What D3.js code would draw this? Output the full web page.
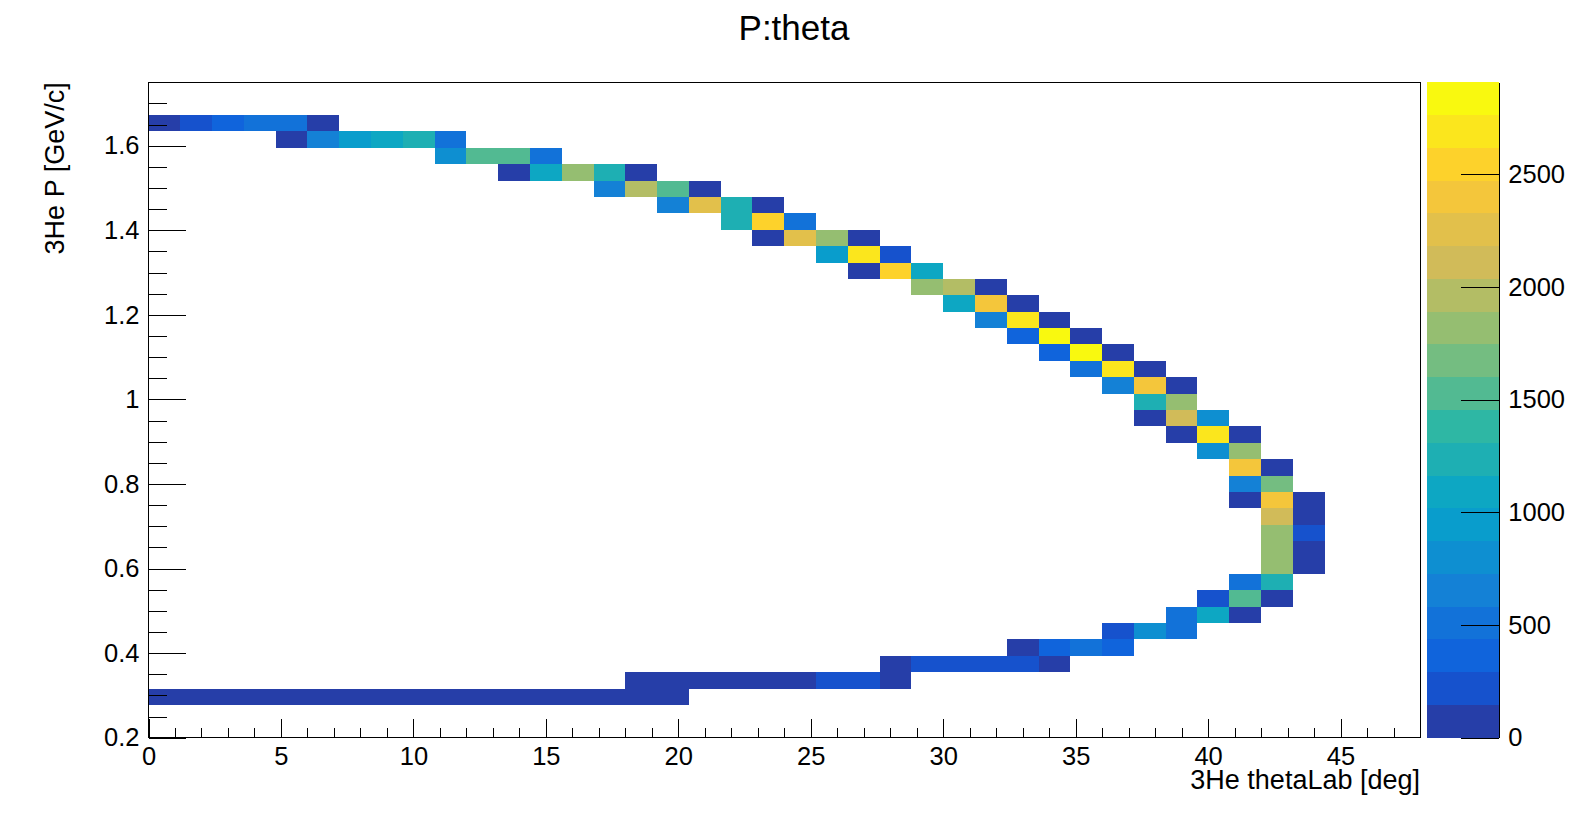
<!DOCTYPE html>
<html lang="en">
<head>
    <meta charset="UTF-8">
    <title>P:theta</title>
    <script src="https://d3js.org/d3.v7.min.js"></script>
</head>
<style>
    body { margin: 0; background: white; }
    svg { display: block; font-family: "Liberation Sans", Arial, sans-serif; }
</style>
<body>
<script>
    // histogram binning (TH2: 40 x 40)
    const nBinsX = 40, thetaMin = 0, thetaMax = 48;
    const nBinsY = 40, pMin = 0.2, pMax = 1.75;

    // filled cells: theta bin index, P bin index, bin content
    const thetaBin = [
        0, 1, 2, 3, 4, 5,
        4, 5, 6, 7, 8, 9,
        9, 10, 11, 12,
        11, 12, 13, 14, 15,
        14, 15, 16, 17,
        16, 17, 18, 19,
        18, 19, 20,
        19, 20, 21, 22,
        21, 22, 23,
        22, 23, 24,
        24, 25, 26,
        25, 26, 27,
        26, 27, 28,
        27, 28, 29,
        28, 29, 30,
        29, 30, 31,
        30, 31, 32,
        31, 32,
        31, 32, 33,
        32, 33, 34,
        33, 34,
        34, 35,
        34, 35,
        34, 35, 36,
        35, 36,
        35, 36,
        35, 36,
        35, 36,
        34, 35,
        33, 34, 35,
        32, 33, 34,
        30, 31, 32,
        27, 28, 29, 30,
        23, 24, 25, 26, 27, 28,
        15, 16, 17, 18, 19, 20, 21, 22, 23,
        0, 1, 2, 3, 4, 5, 6, 7, 8, 9, 10, 11, 12, 13, 14, 15, 16
    ];
    const pBin = [
        37, 37, 37, 37, 37, 37,
        36, 36, 36, 36, 36, 36,
        35, 35, 35, 35,
        34, 34, 34, 34, 34,
        33, 33, 33, 33,
        32, 32, 32, 32,
        31, 31, 31,
        30, 30, 30, 30,
        29, 29, 29,
        28, 28, 28,
        27, 27, 27,
        26, 26, 26,
        25, 25, 25,
        24, 24, 24,
        23, 23, 23,
        22, 22, 22,
        21, 21, 21,
        20, 20,
        19, 19, 19,
        18, 18, 18,
        17, 17,
        16, 16,
        15, 15,
        14, 14, 14,
        13, 13,
        12, 12,
        11, 11,
        10, 10,
        9, 9,
        8, 8, 8,
        7, 7, 7,
        6, 6, 6,
        5, 5, 5, 5,
        4, 4, 4, 4, 4, 4,
        3, 3, 3, 3, 3, 3, 3, 3, 3,
        2, 2, 2, 2, 2, 2, 2, 2, 2, 2, 2, 2, 2, 2, 2, 2, 2
    ];
    const counts = [
        95, 230, 370, 505, 520, 110,
        70, 640, 950, 1080, 1240, 530,
        790, 1520, 1540, 500,
        100, 1100, 1810, 1250, 120,
        660, 1970, 1530, 105,
        670, 2260, 1230, 90,
        1220, 2550, 515,
        80, 2240, 1820, 115,
        960, 2700, 250,
        75, 2560, 1110,
        1800, 1950, 125,
        1095, 2410, 110,
        655, 2680, 130,
        380, 2908, 120,
        395, 2860, 125,
        540, 2720, 115,
        630, 2420, 90,
        1245, 1830,
        70, 2120, 810,
        85, 2710, 120,
        780, 1825,
        2390, 110,
        690, 1680,
        95, 2400, 130,
        2100, 140,
        1850, 205,
        1790, 135,
        1800, 125,
        470, 1270,
        240, 1500, 115,
        480, 1060, 105,
        270, 760, 460,
        100, 320, 450, 340,
        110, 265, 280, 275, 260, 120,
        90, 100, 105, 115, 120, 130, 225, 240, 135,
        60, 65, 70, 72, 75, 78, 80, 82, 85, 88, 90, 93, 96, 100, 102, 105, 80
    ];

    const xMajor = d3.range(0, 46, 5);
    const xMinor = d3.range(0, 49, 1);
    const yMajor = [0.2, 0.4, 0.6, 0.8, 1.0, 1.2, 1.4, 1.6];
    const yMinor = d3.range(0, 32).map(k => 0.2 + k * 0.05);
    const zMajor = [0, 500, 1000, 1500, 2000, 2500];
    const nContours = 20;

    // kBird palette stops
    const stops = [0.0000, 0.1250, 0.2500, 0.3750, 0.5000, 0.6250, 0.7500, 0.8750, 1.0000];
    const red   = [0.2082, 0.0592, 0.0780, 0.0232, 0.1802, 0.5301, 0.8186, 0.9956, 0.9764];
    const green = [0.1664, 0.3599, 0.5041, 0.6419, 0.7178, 0.7492, 0.7328, 0.7862, 0.9832];
    const blue  = [0.5293, 0.8684, 0.8385, 0.7914, 0.6425, 0.4662, 0.3499, 0.1968, 0.0539];

    const nColors = 255;
    const palette = [];
    for (let g = 1; g < stops.length; g++) {
        const n = Math.floor(nColors * stops[g]) - Math.floor(nColors * stops[g - 1]);
        for (let c = 0; c < n; c++) {
            const r = red[g - 1] + c * (red[g] - red[g - 1]) / n;
            const gr = green[g - 1] + c * (green[g] - green[g - 1]) / n;
            const b = blue[g - 1] + c * (blue[g] - blue[g - 1]) / n;
            palette.push(d3.rgb(r * 255, gr * 255, b * 255).formatHex());
        }
    }
    while (palette.length < nColors) palette.push(d3.rgb(red[8] * 255, green[8] * 255, blue[8] * 255).formatHex());
    const bandColor = k => palette[Math.floor((k + 0.99) * nColors / nContours)];

    const W = 1589, H = 820;
    const frame = {left: 148.5, right: 1420, top: 82.3, bottom: 737.7};
    const pal = {left: 1427.3, right: 1499.3};

    const svg = d3.select("body")
            .append("svg")
            .attr("width", W)
            .attr("height", H);

    const x = d3.scaleLinear().domain([thetaMin, thetaMax]).range([frame.left, frame.right]);
    const y = d3.scaleLinear().domain([pMin, pMax]).range([frame.bottom, frame.top]);

    const zmax = d3.max(counts);
    const z = d3.scaleLinear().domain([0, zmax]).range([frame.bottom, frame.top]);
    const band = v => Math.min(nContours - 1, Math.floor(v / zmax * nContours));

    const dx = (thetaMax - thetaMin) / nBinsX;
    const dy = (pMax - pMin) / nBinsY;

    const cells = counts.map((c, k) => ({i: thetaBin[k], j: pBin[k], c: c}));

    svg.append("g")
            .attr("shape-rendering", "crispEdges")
            .selectAll("rect")
            .data(cells)
            .join("rect")
            .attr("x", d => x(thetaMin + d.i * dx))
            .attr("y", d => y(pMin + (d.j + 1) * dy))
            .attr("width", d => x(thetaMin + (d.i + 1) * dx) - x(thetaMin + d.i * dx))
            .attr("height", d => y(pMin + d.j * dy) - y(pMin + (d.j + 1) * dy))
            .attr("fill", d => bandColor(band(d.c)));

    // frame
    svg.append("rect")
            .attr("x", frame.left).attr("y", frame.top)
            .attr("width", frame.right - frame.left)
            .attr("height", frame.bottom - frame.top)
            .attr("fill", "none")
            .attr("stroke", "black")
            .attr("stroke-width", 1)
            .attr("shape-rendering", "crispEdges");

    const styleAxis = g => {
        g.select(".domain").remove();
        g.selectAll("line").attr("stroke", "black").attr("shape-rendering", "crispEdges");
        g.selectAll("text").attr("fill", "black")
                .attr("font-family", "Liberation Sans, Arial, sans-serif")
                .attr("font-size", 25.5);
    };

    // x axis
    svg.append("g")
            .attr("transform", `translate(0,${frame.bottom})`)
            .call(d3.axisBottom(x).tickValues(xMinor).tickSize(-9.5).tickFormat(""))
            .call(styleAxis);
    svg.append("g")
            .attr("transform", `translate(0,${frame.bottom})`)
            .call(d3.axisBottom(x).tickValues(xMajor).tickSize(-19).tickPadding(9).tickFormat(d3.format("d")))
            .call(styleAxis);

    // y axis
    svg.append("g")
            .attr("transform", `translate(${frame.left},0)`)
            .call(d3.axisLeft(y).tickValues(yMinor).tickSize(-18.5).tickFormat(""))
            .call(styleAxis);
    svg.append("g")
            .attr("transform", `translate(${frame.left},0)`)
            .call(d3.axisLeft(y).tickValues(yMajor).tickSize(-37).tickPadding(9)
                    .tickFormat(d => Math.abs(d - 1) < 1e-9 ? "1" : d3.format(".1f")(d)))
            .call(styleAxis);

    // palette
    svg.append("g")
            .attr("shape-rendering", "crispEdges")
            .selectAll("rect")
            .data(d3.range(nContours))
            .join("rect")
            .attr("x", pal.left)
            .attr("width", pal.right - pal.left)
            .attr("y", k => z((k + 1) * zmax / nContours))
            .attr("height", k => z(k * zmax / nContours) - z((k + 1) * zmax / nContours))
            .attr("fill", k => bandColor(k));

    const zAxis = svg.append("g")
            .attr("transform", `translate(${pal.right},0)`)
            .call(d3.axisRight(z).tickValues(zMajor).tickSize(-38).tickSizeOuter(0).tickPadding(9)
                    .tickFormat(d3.format("d")));
    zAxis.select(".domain").attr("stroke", "black").attr("shape-rendering", "crispEdges");
    zAxis.selectAll("line").attr("stroke", "black").attr("shape-rendering", "crispEdges");
    zAxis.selectAll("text").attr("fill", "black")
            .attr("font-family", "Liberation Sans, Arial, sans-serif")
            .attr("font-size", 25.5);

    // titles
    svg.append("text")
            .attr("x", 794).attr("y", 40)
            .attr("text-anchor", "middle")
            .attr("font-size", 35)
            .text("P:theta");

    svg.append("text")
            .attr("x", frame.right).attr("y", 789)
            .attr("text-anchor", "end")
            .attr("font-size", 27)
            .text("3He thetaLab [deg]");

    svg.append("text")
            .attr("transform", `translate(64,${frame.top}) rotate(-90)`)
            .attr("text-anchor", "end")
            .attr("font-size", 27)
            .text("3He P [GeV/c]");
</script>
</body>
</html>
